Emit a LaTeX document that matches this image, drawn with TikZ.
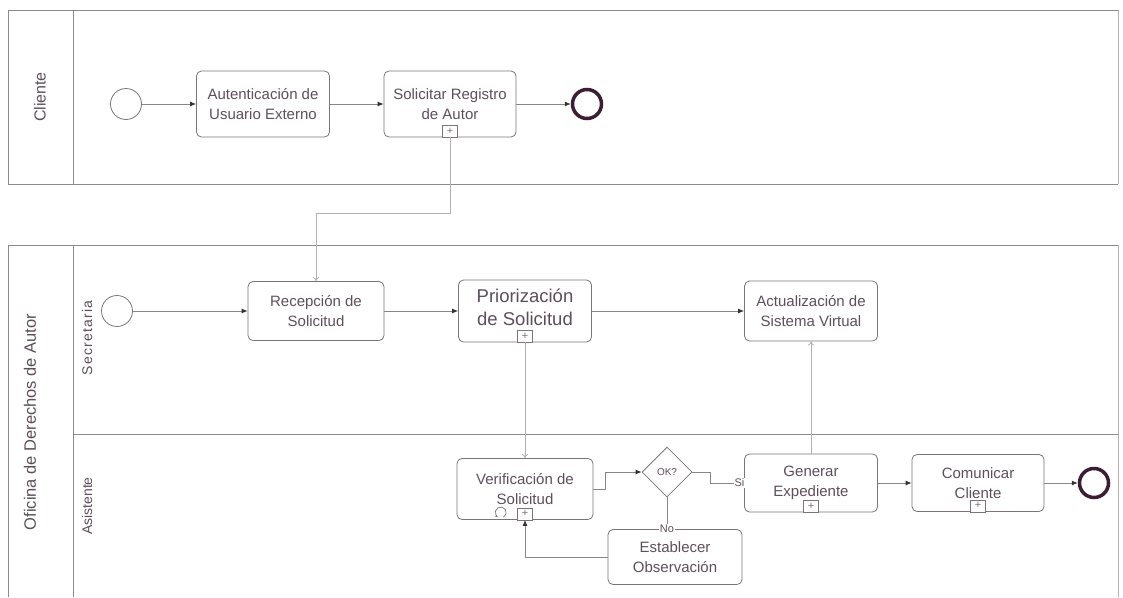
\documentclass[tikz,border=0pt]{standalone}
\usepackage{fontspec}
\setmainfont{Liberation Sans}
\usetikzlibrary{arrows.meta,shapes.geometric,calc}
\definecolor{lanegray}{HTML}{8C8A8C}
\definecolor{boxgray}{HTML}{7A7478}
\definecolor{txt}{HTML}{5E4E5A}
\definecolor{endcol}{HTML}{3C1E34}
\definecolor{flowgray}{HTML}{8A8688}
\definecolor{msggray}{HTML}{B4B0B2}
\tikzset{
  task/.style={draw=boxgray, rounded corners=5pt, minimum width=133pt, minimum height=60pt,
    align=center, text=txt, font=\fontsize{15}{20}\selectfont, line width=0.8pt, inner sep=2pt},
  startev/.style={circle, draw=boxgray, line width=0.8pt, minimum size=31pt, inner sep=0pt},
  endev/.style={circle, draw=endcol, line width=3.5pt, minimum size=29pt, inner sep=0pt},
  gate/.style={diamond, draw=boxgray, line width=0.8pt, minimum width=50pt, minimum height=50pt,
    inner sep=0pt, text=txt, font=\fontsize{10}{12}\selectfont},
  plusbox/.style={draw=boxgray, fill=white, minimum width=15pt, minimum height=12pt, inner sep=0pt,
    anchor=south, text=boxgray, font=\fontsize{11}{11}\selectfont},
  flow/.style={draw=flowgray, line width=0.8pt, -{Latex[length=6pt,width=5pt,color=black!80]}},
  msg/.style={draw=msggray, line width=0.8pt, -{To[length=4pt,width=6pt]}},
  lbl/.style={fill=white, inner sep=1pt, text=txt, font=\fontsize{11}{12}\selectfont},
  pool/.style={draw=lanegray, line width=1pt},
  lane/.style={text=txt, rotate=90, font=\fontsize{14}{16}\selectfont}
}
\begin{document}
\begin{tikzpicture}[x=1pt, y=-1pt]
  \useasboundingbox (0,0) rectangle (1123,597);
  % pools and lanes
  \draw[pool] (1118,10) -- (8,10) -- (8,184) -- (1118,184);
  \draw[pool, draw=msggray] (1118,10) -- (1118,184);
  \draw[pool] (73,10) -- (73,184);
  \draw[pool] (8,597) -- (8,245) -- (1118,245);
  \draw[pool, draw=msggray] (1118,245) -- (1118,597);
  \draw[pool] (73,245) -- (73,597);
  \draw[pool] (73,434) -- (1118,434);
  \node[lane, font=\fontsize{16}{18}\selectfont] (cliente) at (40,97) {Cliente};
  \node[lane, font=\fontsize{16.5}{18}\selectfont] (oficina) at (30,422) {Oficina de Derechos de Autor};
  \node[lane, font=\fontsize{14}{16}\selectfont\addfontfeatures{LetterSpace=9}] (secretaria) at (87,338) {Secretaria};
  \node[lane] (asistente) at (87,506) {Asistente};
  % cliente
  \node[startev] (ini1) at (126,104) {};
  \node[task, minimum height=66pt] (aut) at (263,104) {Autenticación de\\Usuario Externo};
  \node[task, minimum height=66pt, minimum width=132pt] (sol) at (450,104) {Solicitar Registro\\de Autor};
  \node[endev] (fin1) at (587,104) {};
  % secretaria
  \node[startev] (ini2) at (117,311) {};
  \node[task, minimum width=136pt, minimum height=59pt] (rec) at (316,311) {Recepción de\\Solicitud};
  \node[task, minimum height=62pt, label={[align=center, text=txt, yshift=4pt,
    font=\fontsize{18.5}{23}\selectfont]center:Priorización\\de Solicitud}] (pri) at (525,311) {};
  \node[task] (act) at (811,311) {Actualización de\\Sistema Virtual};
  % asistente
  \node[task, minimum width=136pt, minimum height=61pt] (ver) at (525,489) {Verificación de\\Solicitud};
  \node[gate] (ok) at (667,472) {OK?};
  \node[task, minimum height=58pt] (gen) at (811,483) {Generar\\Expediente};
  \node[task, minimum width=132pt, minimum height=57pt] (com) at (978,483) {Comunicar\\Cliente};
  \node[endev] (fin2) at (1094,483) {};
  \node[task, minimum width=134pt, minimum height=55pt] (est) at (675,557) {Establecer\\Observación};
  % sub-process markers
  \foreach \t in {sol,pri,ver,gen,com}
    \node[plusbox] (\t p) at (\t.south) {+};
  \draw[boxgray, line width=0.7pt, -{Stealth[length=3pt]}] ($(ver.south)+(-21.5,-2.7)$)
    arc[start angle=-60, end angle=240, radius=5.5pt];
  % connectors
  \draw[flow] (ini1) -- (aut);
  \draw[flow] (aut) -- (sol);
  \draw[flow] (sol) -- (fin1);
  \draw[msg] (sol.south) -- ++(0,76) -| (rec.north);
  \draw[flow] (ini2) -- (rec);
  \draw[flow] (rec) -- (pri);
  \draw[flow] (pri) -- (act);
  \draw[msg] (pri.south) -- (ver.north);
  \draw[flow] (ver.east) -- ++(12,0) |- (ok.west);
  \draw[flow] (ok.east) -- ++(18,0) |- node[pos=0.93, lbl] {Si} (gen.west);
  \draw[draw=flowgray, line width=0.8pt] (ok.south) -- node[pos=1, lbl] {No} (ok.south |- est.north);
  \draw[flow] (est.west) -| (ver.south);
  \draw[msg] (gen.north) -- (act.south);
  \draw[flow] (gen) -- (com);
  \draw[flow] (com) -- (fin2);
\end{tikzpicture}
\end{document}
